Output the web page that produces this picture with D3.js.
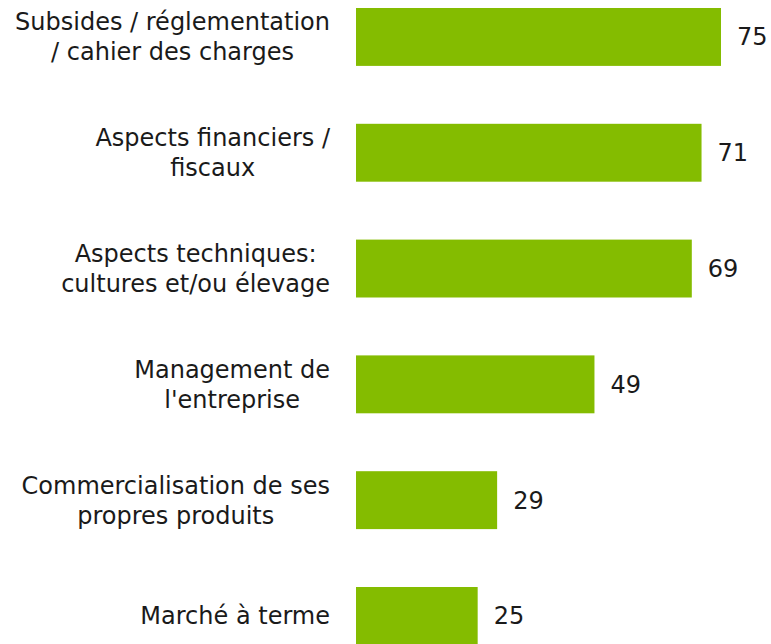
<!DOCTYPE html>
<html>
<head>
<meta charset="utf-8">
<script src="https://cdn.jsdelivr.net/npm/d3@7"></script>
<style>
  html, body { margin: 0; padding: 0; background: #ffffff; }
  svg { display: block; }
  text { font-family: Verdana, "DejaVu Sans", sans-serif; font-size: 24px; fill: #1a1a1a; }
</style>
</head>
<body>
<svg id="chart" width="771" height="644"></svg>
<script>
// Topics and the share of respondents (%) citing each one
const categories = [
  ["Subsides / réglementation", "/ cahier des charges"],
  ["Aspects financiers /", "fiscaux"],
  ["Aspects techniques:", "cultures et/ou élevage"],
  ["Management de", "l'entreprise"],
  ["Commercialisation de ses", "propres produits"],
  ["Marché à terme"]
];
const values = [75, 71, 69, 49, 29, 25];

const svg = d3.select("#chart");
const keys = categories.map(c => c.join(" "));

const x = d3.scaleLinear().domain([0, 75]).range([356, 721]);
const y = d3.scaleBand()
  .domain(keys)
  .range([-20.95, 673.85])
  .paddingInner(0.5)
  .paddingOuter(0.25);

const barColor = "#84bc00";
const labelRight = 330;
const lineHeight = 30;

// bars
svg.append("g").selectAll("rect")
  .data(values)
  .join("rect")
  .attr("x", x(0))
  .attr("y", (d, i) => y(keys[i]))
  .attr("width", d => x(d) - x(0))
  .attr("height", y.bandwidth())
  .attr("fill", barColor);

// value labels
svg.append("g").selectAll("text")
  .data(values)
  .join("text")
  .attr("x", d => x(d) + 16)
  .attr("y", (d, i) => y(keys[i]) + y.bandwidth() / 2)
  .attr("dy", "0.35em")
  .text(d => d);

// category labels: lines centred within a block that is right-aligned
const labels = svg.append("g");
categories.forEach((lines, i) => {
  const cy = y(keys[i]) + y.bandwidth() / 2;
  const g = labels.append("g");
  const texts = lines.map((line, j) => g.append("text")
    .attr("text-anchor", "middle")
    .attr("y", cy + (j - (lines.length - 1) / 2) * lineHeight)
    .attr("dy", "0.35em")
    .text(line));
  const w = d3.max(texts, t => t.node().getComputedTextLength());
  texts.forEach(t => t.attr("x", labelRight - w / 2));
});
</script>
</body>
</html>
